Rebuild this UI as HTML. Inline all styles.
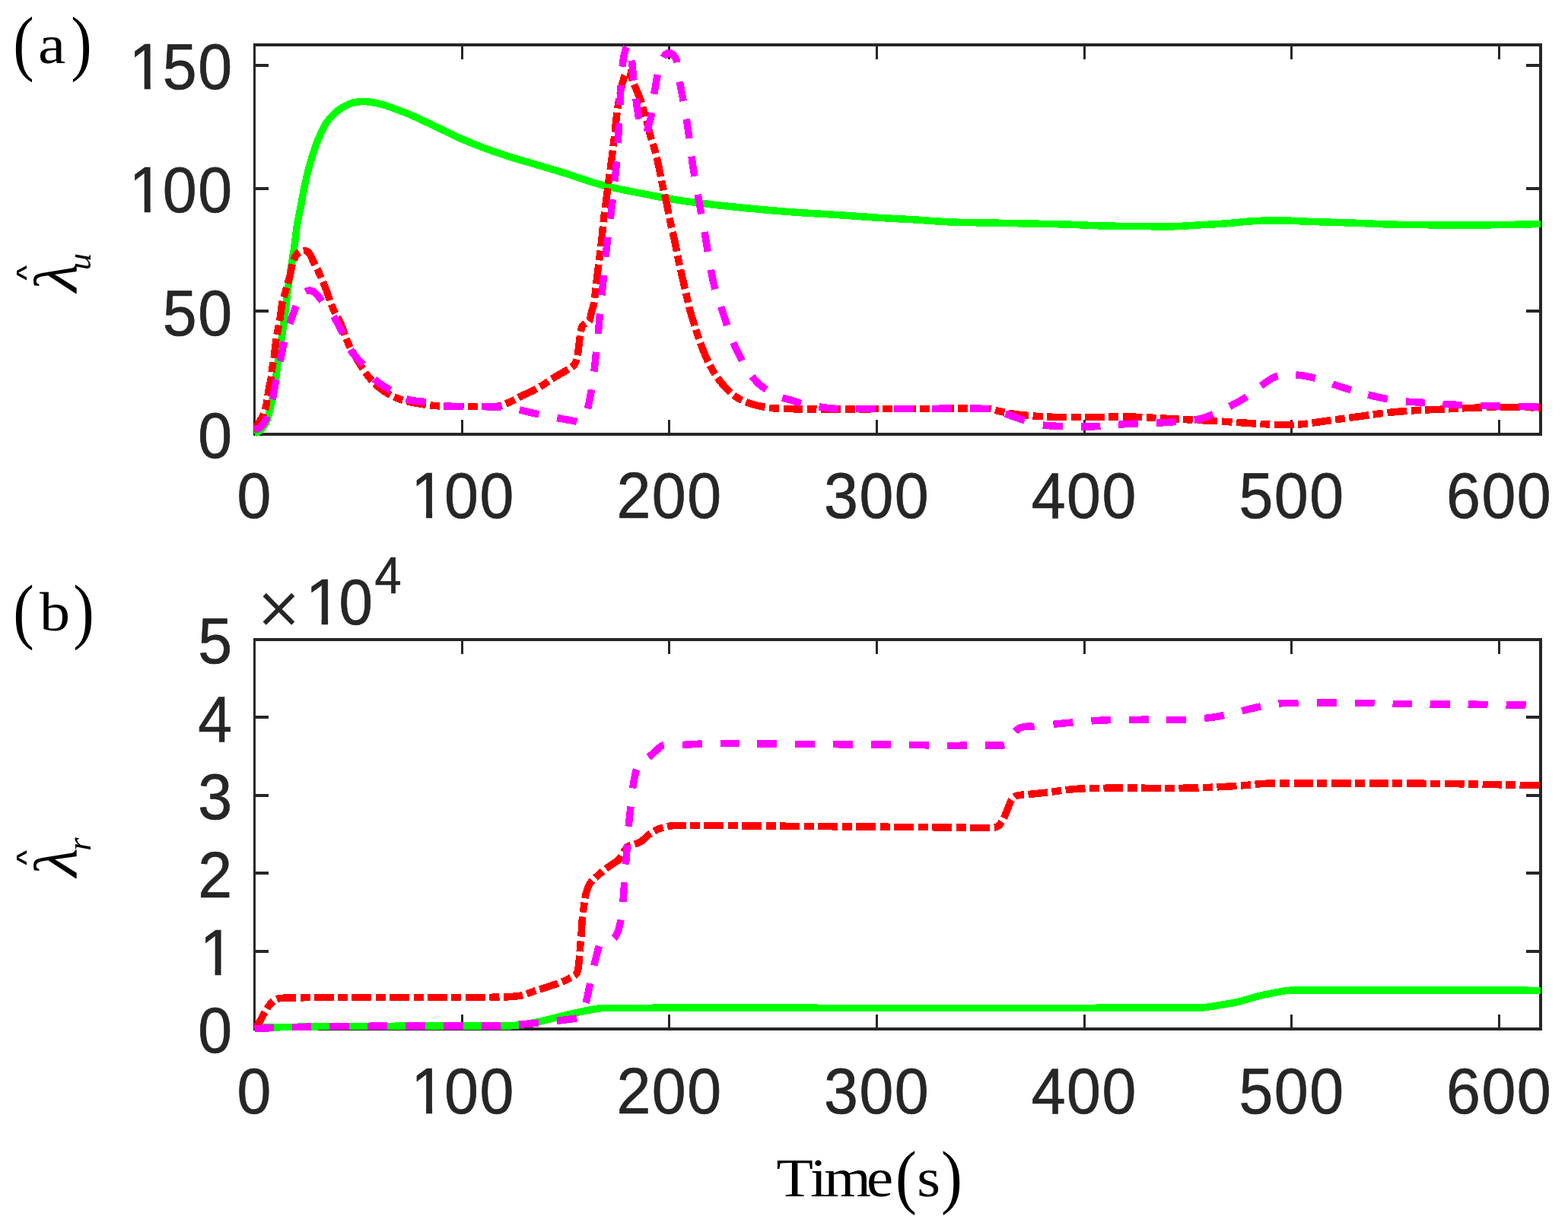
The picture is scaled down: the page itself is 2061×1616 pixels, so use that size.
<!DOCTYPE html>
<html><head><meta charset="utf-8"><title>Figure</title>
<style>
html,body{margin:0;padding:0;background:#fff;}
svg{display:block;}
.tk text{font-family:"Liberation Sans",Arial,Helvetica,sans-serif;font-size:84.5px;fill:#262626;stroke:#262626;stroke-width:0.7px;}
.ser{font-family:"Liberation Serif","Times New Roman",serif;fill:#000;}
</style></head><body>
<svg xmlns="http://www.w3.org/2000/svg" width="2061" height="1616" viewBox="0 0 2061 1616">
<rect width="2061" height="1616" fill="#fff"/>
<defs>
<clipPath id="ca"><rect x="333.50" y="59.00" width="1691.50" height="518.00"/></clipPath>
<clipPath id="cb"><rect x="334.00" y="841.00" width="1691.00" height="518.00"/></clipPath>
</defs>

<g fill="#262626" shape-rendering="crispEdges">
<rect x="333" y="57" width="3" height="516"/>
<rect x="2023" y="57" width="4" height="516"/>
<rect x="333" y="57" width="1694" height="4"/>
<rect x="333" y="569" width="1694" height="4"/>
<rect x="606" y="61" width="3" height="17"/>
<rect x="606" y="552" width="3" height="17"/>
<rect x="878" y="61" width="3" height="17"/>
<rect x="878" y="552" width="3" height="17"/>
<rect x="1151" y="61" width="3" height="17"/>
<rect x="1151" y="552" width="3" height="17"/>
<rect x="1424" y="61" width="3" height="17"/>
<rect x="1424" y="552" width="3" height="17"/>
<rect x="1696" y="61" width="3" height="17"/>
<rect x="1696" y="552" width="3" height="17"/>
<rect x="1969" y="61" width="3" height="17"/>
<rect x="1969" y="552" width="3" height="17"/>
<rect x="336" y="407" width="17" height="4"/>
<rect x="2006" y="407" width="17" height="4"/>
<rect x="336" y="246" width="17" height="4"/>
<rect x="2006" y="246" width="17" height="4"/>
<rect x="336" y="84" width="17" height="4"/>
<rect x="2006" y="84" width="17" height="4"/>
<rect x="333" y="839" width="3" height="516"/>
<rect x="2023" y="839" width="4" height="516"/>
<rect x="333" y="839" width="1694" height="4"/>
<rect x="333" y="1351" width="1694" height="4"/>
<rect x="606" y="843" width="3" height="17"/>
<rect x="606" y="1334" width="3" height="17"/>
<rect x="878" y="843" width="3" height="17"/>
<rect x="878" y="1334" width="3" height="17"/>
<rect x="1151" y="843" width="3" height="17"/>
<rect x="1151" y="1334" width="3" height="17"/>
<rect x="1424" y="843" width="3" height="17"/>
<rect x="1424" y="1334" width="3" height="17"/>
<rect x="1696" y="843" width="3" height="17"/>
<rect x="1696" y="1334" width="3" height="17"/>
<rect x="1969" y="843" width="3" height="17"/>
<rect x="1969" y="1334" width="3" height="17"/>
<rect x="336" y="1249" width="17" height="4"/>
<rect x="2006" y="1249" width="17" height="4"/>
<rect x="336" y="1146" width="17" height="4"/>
<rect x="2006" y="1146" width="17" height="4"/>
<rect x="336" y="1044" width="17" height="4"/>
<rect x="2006" y="1044" width="17" height="4"/>
<rect x="336" y="941" width="17" height="4"/>
<rect x="2006" y="941" width="17" height="4"/>
</g>
<g fill="none" stroke-width="9.5" stroke-linejoin="round" shape-rendering="crispEdges">
<g clip-path="url(#ca)">
<path d="M334.50 569.50C335.67 569.17 336.91 569.00 338.00 568.50C339.08 568.00 340.09 567.28 341.00 566.50C342.43 565.28 343.80 563.95 345.00 562.50C346.60 560.58 348.26 558.60 349.40 556.40C350.59 554.10 351.24 551.50 352.00 549.00C353.01 545.70 353.84 542.34 354.70 539.00C355.68 535.18 356.59 531.34 357.50 527.50C358.46 523.44 359.60 519.41 360.30 515.30C361.23 509.84 361.71 504.30 362.40 498.80C363.01 493.87 363.59 488.93 364.20 484.00C364.82 479.03 365.39 474.06 366.10 469.10C366.82 464.06 367.67 459.03 368.50 454.00C369.30 449.13 370.26 444.28 371.00 439.40C371.76 434.45 372.33 429.47 373.00 424.50C373.66 419.57 374.38 414.64 375.00 409.70C375.61 404.81 376.14 399.90 376.70 395.00C377.27 390.00 377.75 384.99 378.40 380.00C378.88 376.32 379.54 372.67 380.10 369.00C380.91 363.67 381.70 358.33 382.50 353.00C383.33 347.50 384.17 342.00 385.00 336.50C385.83 331.00 386.76 325.51 387.50 320.00C388.62 311.68 389.26 303.28 390.60 295.00C391.96 286.62 393.99 278.34 395.60 270.00C397.21 261.68 398.48 253.29 400.25 245.00C402.03 236.62 404.02 228.27 406.25 220.00C408.52 211.60 410.93 203.22 413.75 195.00C415.93 188.64 418.54 182.41 421.25 176.25C423.12 171.99 424.98 167.63 427.50 163.75C430.39 159.30 433.75 155.00 437.50 151.25C441.25 147.50 445.51 144.06 450.00 141.25C453.85 138.84 458.17 136.94 462.50 135.60C466.50 134.36 470.81 133.70 475.00 133.50C479.14 133.30 483.37 133.80 487.50 134.40C492.54 135.13 497.58 136.17 502.50 137.50C507.58 138.87 512.55 140.69 517.50 142.50C525.05 145.27 532.64 148.01 540.00 151.25C553.47 157.18 566.69 163.70 580.00 170.00C588.36 173.95 596.53 178.32 605.00 182.00C615.69 186.65 626.56 190.95 637.50 195.00C649.06 199.28 660.76 203.24 672.50 207.00C681.59 209.91 690.85 212.29 700.00 215.00C713.35 218.95 726.71 222.86 740.00 227.00C756.71 232.20 773.12 238.48 790.00 243.00C806.45 247.40 823.29 250.41 840.00 253.75C856.62 257.07 873.26 260.38 890.00 263.00C906.59 265.60 923.31 267.50 940.00 269.40C959.97 271.67 979.98 273.66 1000.00 275.50C1016.65 277.03 1033.32 278.33 1050.00 279.50C1066.66 280.67 1083.34 281.42 1100.00 282.50C1116.67 283.58 1133.33 284.96 1150.00 286.00C1166.66 287.04 1183.34 287.75 1200.00 288.75C1216.67 289.75 1233.32 291.29 1250.00 292.00C1266.65 292.71 1283.33 292.67 1300.00 293.00C1316.67 293.33 1333.33 293.67 1350.00 294.00C1366.67 294.33 1383.34 294.50 1400.00 295.00C1416.67 295.50 1433.33 296.58 1450.00 297.00C1466.66 297.42 1483.33 297.31 1500.00 297.50C1512.50 297.64 1525.01 298.25 1537.50 298.00C1550.01 297.75 1562.50 296.71 1575.00 296.00C1587.50 295.29 1600.01 294.67 1612.50 293.75C1625.01 292.83 1637.48 291.13 1650.00 290.50C1662.48 289.88 1675.00 289.83 1687.50 290.00C1700.00 290.17 1712.50 291.07 1725.00 291.50C1741.66 292.07 1758.34 292.42 1775.00 293.00C1791.67 293.58 1808.33 294.54 1825.00 295.00C1841.66 295.46 1858.33 295.59 1875.00 295.75C1893.33 295.92 1911.67 296.04 1930.00 296.00C1946.67 295.96 1963.33 295.76 1980.00 295.50C1995.00 295.26 2010.00 294.83 2025.00 294.50" stroke="#00ff00" id="ga"/>
<path d="M334.50 567.00C335.17 565.67 335.87 564.35 336.50 563.00C337.11 561.69 337.51 560.27 338.20 559.00C339.51 556.60 341.10 554.36 342.50 552.00C343.87 549.69 345.48 547.47 346.50 545.00C347.82 541.80 348.75 538.39 349.50 535.00C350.52 530.39 351.02 525.66 351.80 521.00C352.52 516.66 353.18 512.32 354.00 508.00C354.58 504.92 355.51 501.90 356.00 498.80C356.78 493.90 357.09 488.92 357.80 484.00C358.43 479.65 359.36 475.35 360.00 471.00C360.63 466.68 361.08 462.33 361.60 458.00C362.08 454.00 362.40 449.98 363.00 446.00C363.60 441.98 364.45 438.00 365.20 434.00C365.95 430.00 366.81 426.01 367.50 422.00C368.21 417.85 368.78 413.67 369.40 409.50C370.02 405.34 370.31 401.10 371.20 397.00C372.01 393.27 373.44 389.68 374.50 386.00C375.64 382.01 376.65 377.99 377.80 374.00C378.90 370.15 380.29 366.38 381.25 362.50C382.19 358.71 382.57 354.79 383.50 351.00C384.32 347.62 385.18 344.20 386.50 341.00C387.52 338.53 388.84 336.05 390.50 334.00C391.67 332.55 393.33 331.29 395.00 330.50C396.50 329.79 398.36 329.41 400.00 329.50C401.53 329.58 403.29 330.09 404.50 331.00C405.96 332.09 407.04 333.87 408.00 335.50C409.29 337.70 410.12 340.19 411.25 342.50C413.92 347.94 416.91 353.23 419.40 358.75C422.74 366.15 425.79 373.69 428.75 381.25C431.82 389.10 434.16 397.27 437.50 405.00C440.82 412.68 445.41 419.82 448.75 427.50C452.08 435.15 454.02 443.42 457.50 451.00C461.10 458.84 465.55 466.34 470.00 473.75C474.05 480.50 478.08 487.39 483.00 493.50C488.08 499.81 493.61 506.11 500.00 511.00C506.78 516.19 514.60 520.49 522.50 523.75C529.93 526.82 538.07 528.41 546.00 530.00C554.23 531.66 562.63 532.82 571.00 533.50C580.63 534.28 590.33 534.22 600.00 534.40C610.00 534.59 620.00 534.67 630.00 534.60C638.33 534.54 646.86 535.23 655.00 534.00C660.32 533.20 665.42 530.69 670.40 528.50C676.25 525.92 681.74 522.52 687.50 519.70C691.61 517.69 695.93 516.08 700.00 514.00C704.66 511.62 709.26 509.07 713.70 506.30C717.49 503.93 720.90 500.96 724.70 498.60C731.60 494.30 738.83 490.51 745.80 486.30C748.27 484.81 750.85 483.37 753.00 481.50C754.42 480.27 755.74 478.71 756.50 477.00C757.74 474.21 758.39 471.05 759.00 468.00C759.79 464.05 760.17 460.01 760.70 456.00C761.27 451.67 761.68 447.32 762.30 443.00C762.78 439.65 763.19 436.27 764.00 433.00C764.43 431.27 764.96 429.38 766.00 428.00C766.96 426.72 768.63 425.95 770.00 425.00C771.53 423.95 773.92 423.56 774.70 422.00C776.42 418.56 776.45 413.97 777.50 410.00C778.39 406.64 779.94 403.43 780.50 400.00C782.24 389.26 783.08 378.33 784.40 367.50C785.41 359.16 786.47 350.83 787.50 342.50C788.53 334.17 789.67 325.84 790.60 317.50C791.53 309.18 792.16 300.82 793.10 292.50C794.04 284.15 795.20 275.83 796.25 267.50C797.30 259.17 798.29 250.83 799.40 242.50C800.79 232.08 802.40 221.68 803.75 211.25C805.10 200.85 806.29 190.42 807.50 180.00C808.94 167.67 810.03 155.30 811.70 143.00C812.70 135.63 814.02 128.29 815.50 121.00C816.62 115.46 817.81 109.88 819.50 104.50C820.48 101.38 821.64 97.24 823.50 95.50C824.31 94.74 826.62 96.00 827.50 97.00C829.12 98.83 829.97 101.61 831.00 104.00C831.97 106.27 832.58 108.70 833.50 111.00C834.91 114.53 836.57 117.97 838.00 121.50C839.54 125.30 841.09 129.11 842.40 133.00C843.79 137.15 844.88 141.40 846.10 145.60C847.25 149.56 848.40 153.52 849.50 157.50C850.37 160.66 851.19 163.83 852.00 167.00C853.02 170.99 853.87 175.04 855.00 179.00C856.53 184.37 858.52 189.62 860.00 195.00C862.05 202.45 863.92 209.96 865.60 217.50C867.45 225.79 868.83 234.19 870.60 242.50C872.38 250.86 874.47 259.14 876.25 267.50C878.02 275.81 879.48 284.19 881.25 292.50C883.03 300.86 885.12 309.14 886.90 317.50C888.67 325.81 890.14 334.19 891.90 342.50C893.67 350.85 895.61 359.17 897.50 367.50C898.98 374.01 900.47 380.51 902.00 387.00C903.81 394.67 905.46 402.39 907.50 410.00C909.12 416.06 911.13 422.01 913.00 428.00C914.46 432.68 915.91 437.37 917.50 442.00C919.57 448.03 921.68 454.06 924.00 460.00C925.85 464.73 927.79 469.43 930.00 474.00C932.46 479.10 935.04 484.18 938.00 489.00C940.87 493.68 944.09 498.19 947.50 502.50C950.42 506.19 953.63 509.71 957.00 513.00C960.29 516.21 963.70 519.44 967.50 522.00C971.37 524.61 975.69 526.69 980.00 528.50C984.02 530.19 988.26 531.44 992.50 532.50C998.26 533.94 1004.12 535.13 1010.00 536.00C1014.96 536.73 1019.99 537.11 1025.00 537.30C1037.49 537.78 1050.00 537.88 1062.50 538.00C1075.00 538.12 1087.50 538.05 1100.00 538.00C1133.33 537.88 1166.67 537.58 1200.00 537.50C1233.33 537.42 1266.77 536.61 1300.00 537.50C1304.27 537.61 1308.30 539.66 1312.50 540.50C1320.80 542.16 1329.10 543.99 1337.50 545.00C1349.94 546.49 1362.48 547.46 1375.00 548.00C1391.64 548.71 1408.33 548.75 1425.00 548.75C1441.67 548.75 1458.33 548.06 1475.00 548.00C1483.33 547.97 1491.67 548.14 1500.00 548.50C1516.67 549.22 1533.33 550.37 1550.00 551.25C1566.66 552.12 1583.34 552.79 1600.00 553.75C1616.67 554.71 1633.32 556.08 1650.00 557.00C1662.49 557.69 1675.00 558.48 1687.50 558.60C1695.83 558.68 1704.21 558.41 1712.50 557.60C1725.04 556.38 1737.50 554.18 1750.00 552.50C1762.50 550.82 1775.00 549.17 1787.50 547.50C1800.00 545.83 1812.46 543.84 1825.00 542.50C1837.46 541.17 1849.99 540.25 1862.50 539.50C1874.99 538.75 1887.50 538.55 1900.00 538.00C1909.34 537.59 1918.66 536.93 1928.00 536.60C1944.33 536.03 1960.66 535.40 1977.00 535.30C1993.00 535.20 2009.00 535.77 2025.00 536.00" stroke="#ff0000" id="ra" stroke-dasharray="26.13 5.53 13.06 5.53 26.13 5.53 13.06 5.53 25.74 5.45 12.87 5.44 26.26 5.56 13.13 5.56 26.19 5.54 13.10 5.54 26.19 5.54 13.10 5.54 26.26 5.56 13.13 5.56 25.22 5.33 12.61 5.33 27.56 5.83 13.78 5.83 24.96 5.28 12.48 5.28 25.61 5.42 12.80 5.42 26.13 5.53 13.06 5.53 26.13 5.53 13.06 5.53 26.13 5.53 13.06 5.53 25.09 5.31 12.54 5.31 26.00 5.50 13.00 5.50 26.13 5.53 13.06 5.53 25.74 5.44 12.87 5.45 26.65 5.64 13.32 5.64 26.13 5.53 13.06 5.53 26.00 5.50 13.00 5.50 26.00 5.50 13.00 5.50 26.00 5.50 13.00 5.50 26.13 5.53 13.07 5.53 26.13 5.53 13.07 5.53 25.87 5.47 12.93 5.47 26.26 5.56 13.13 5.56 26.26 5.56 13.13 5.56 26.13 5.53 13.07 5.53 25.87 5.47 12.93 5.47 26.65 5.64 13.33 5.64 25.87 5.47 12.93 5.47 26.13 5.53 13.07 5.53 25.61 5.42 12.81 5.42 26.13 5.53 13.07 5.53 25.35 5.36 12.67 5.36 26.00 5.50 13.00 5.50 25.61 5.42 12.81 5.42 25.61 5.42 12.81 5.42 26.39 5.58 13.19 5.58 25.87 5.47 12.93 5.47 25.87 5.47 12.93 5.47 25.61 5.42 12.80 5.42 24.96 5.28 12.48 5.28 27.30 5.77 13.65 5.78 25.74 5.45 12.87 5.45 25.87 5.47 12.93 5.47 25.61 5.42 12.80 5.42 26.39 5.58 13.20 5.58 26.00 5.50 13.00 5.50 25.48 5.39 12.74 5.39 26.00 5.50 13.00 5.50 25.87 5.47 12.93 5.47 5.11 99.00"/>
<path d="M334.50 565.00C335.93 564.67 337.51 564.64 338.80 564.00C340.51 563.14 342.13 561.87 343.50 560.50C345.06 558.94 346.39 557.07 347.60 555.20C348.66 553.57 349.61 551.82 350.30 550.00C351.41 547.08 352.08 544.00 353.00 541.00C353.82 538.33 354.65 535.66 355.50 533.00C356.38 530.23 357.50 527.52 358.20 524.70C359.24 520.52 359.91 516.24 360.70 512.00C361.48 507.81 362.10 503.59 362.90 499.40C363.70 495.25 364.60 491.13 365.50 487.00C366.37 482.99 367.33 479.01 368.20 475.00C369.10 470.84 369.92 466.66 370.80 462.50C371.65 458.50 372.40 454.47 373.40 450.50C374.46 446.30 375.75 442.15 377.00 438.00C378.21 433.98 379.47 429.98 380.80 426.00C382.14 421.98 383.58 417.99 385.00 414.00C386.31 410.33 387.55 406.62 389.00 403.00C390.22 399.95 391.50 396.91 393.00 394.00C394.16 391.74 395.42 389.46 397.00 387.50C398.25 385.96 399.79 384.44 401.50 383.50C403.12 382.61 405.18 381.92 407.00 382.00C409.02 382.09 411.31 382.85 413.00 384.00C415.22 385.51 416.95 387.90 418.75 390.00C420.95 392.57 422.96 395.30 425.00 398.00C427.37 401.14 429.70 404.31 432.00 407.50C435.11 411.81 438.52 415.95 441.25 420.50C444.52 425.95 447.18 431.79 450.00 437.50C453.85 445.29 456.63 453.73 461.25 461.00C465.38 467.48 471.29 472.80 476.25 478.75C482.12 485.80 487.11 493.81 493.75 500.00C499.19 505.06 506.08 508.61 512.50 512.50C519.83 516.94 527.01 522.27 535.00 525.00C542.85 527.68 551.70 527.30 560.00 528.75C567.95 530.14 575.77 532.41 583.75 533.50C589.77 534.32 595.91 534.37 602.00 534.50C616.53 534.81 631.07 534.61 645.60 534.80C649.24 534.85 652.87 534.95 656.50 535.20C661.01 535.51 665.53 535.86 670.00 536.50C674.56 537.16 679.09 538.12 683.60 539.10C689.09 540.29 694.52 541.74 700.00 543.00C702.62 543.60 705.26 544.17 707.90 544.70C715.93 546.31 723.96 547.87 732.00 549.40C740.26 550.97 748.55 552.41 756.80 554.00C758.21 554.27 759.67 555.17 761.00 555.00C762.24 554.84 763.57 553.93 764.50 553.00C766.07 551.43 767.49 549.51 768.50 547.50C770.19 544.11 771.66 540.49 772.60 536.80C774.59 529.02 775.94 521.04 777.30 513.10C778.74 504.74 779.94 496.32 781.00 487.90C782.04 479.65 782.72 471.36 783.60 463.10C784.48 454.86 785.50 446.64 786.30 438.40C787.10 430.18 787.61 421.93 788.40 413.70C789.68 400.38 791.15 387.07 792.50 373.75C794.19 357.09 795.60 340.39 797.50 323.75C799.35 307.47 801.79 291.26 803.75 275.00C805.76 258.35 807.82 241.69 809.40 225.00C810.74 210.86 811.64 196.68 812.50 182.50C813.67 163.34 814.45 144.16 815.50 125.00C815.95 116.66 816.35 108.32 817.00 100.00C817.52 93.32 818.10 86.63 819.00 80.00C819.60 75.63 820.41 71.26 821.50 67.00C822.07 64.76 822.80 62.30 824.00 60.50C824.46 59.80 826.04 58.99 826.50 59.50C827.70 60.82 828.54 63.74 829.00 66.00C829.87 70.24 830.07 74.66 830.50 79.00C831.31 87.19 831.85 95.41 832.70 103.60C833.58 112.08 834.58 120.55 835.70 129.00C836.81 137.35 837.99 145.70 839.40 154.00C840.09 158.03 840.92 162.06 842.00 166.00C842.79 168.89 843.61 171.98 845.00 174.50C845.45 175.31 846.71 176.05 847.50 176.00C848.27 175.95 849.34 175.05 849.70 174.20C851.17 170.72 851.93 166.74 853.00 163.00C854.23 158.68 855.83 154.42 856.60 150.00C858.03 141.75 858.45 133.31 859.60 125.00C860.25 120.31 861.18 115.66 862.00 111.00C862.65 107.33 863.20 103.64 864.00 100.00C865.03 95.30 866.02 90.56 867.50 86.00C868.56 82.73 870.02 79.55 871.60 76.50C872.52 74.72 873.58 72.84 875.00 71.50C876.05 70.51 877.63 69.58 879.00 69.50C880.46 69.41 882.35 70.01 883.50 71.00C885.62 72.84 887.75 75.35 888.80 78.00C890.25 81.68 890.37 85.98 891.00 90.00C891.87 95.52 892.38 101.09 893.30 106.60C894.64 114.63 896.34 122.59 897.80 130.60C899.34 139.06 900.97 147.51 902.30 156.00C903.87 165.97 905.15 175.99 906.50 186.00C907.92 196.49 908.95 207.04 910.60 217.50C913.25 234.21 916.48 250.83 919.40 267.50C922.32 284.16 925.18 300.84 928.10 317.50C931.02 334.17 933.50 350.94 936.90 367.50C938.46 375.10 940.71 382.58 943.00 390.00C945.49 398.08 948.58 405.98 951.25 414.00C953.91 421.98 956.07 430.13 959.00 438.00C961.90 445.80 965.17 453.49 968.75 461.00C972.17 468.16 975.77 475.31 980.00 482.00C984.52 489.14 989.27 496.38 995.00 502.50C999.27 507.05 1004.71 510.62 1010.00 514.00C1014.88 517.12 1020.16 519.77 1025.50 522.00C1029.33 523.60 1033.52 524.28 1037.50 525.50C1042.25 526.95 1046.88 528.83 1051.70 530.00C1059.38 531.86 1067.18 533.41 1075.00 534.60C1083.61 535.91 1092.30 537.16 1101.00 537.50C1117.30 538.13 1133.67 537.50 1150.00 537.50C1166.67 537.50 1183.33 537.50 1200.00 537.50C1233.33 537.50 1266.81 536.47 1300.00 537.50C1304.31 537.63 1308.38 539.68 1312.50 541.00C1320.05 543.43 1327.47 546.26 1335.00 548.75C1344.13 551.76 1353.18 555.29 1362.50 557.50C1369.01 559.04 1375.80 559.66 1382.50 560.00C1399.13 560.83 1415.85 561.42 1432.50 561.00C1449.19 560.58 1465.82 558.40 1482.50 557.50C1496.65 556.73 1510.85 556.73 1525.00 556.00C1533.35 555.57 1541.68 554.79 1550.00 554.00C1558.35 553.21 1566.80 552.79 1575.00 551.25C1580.13 550.29 1585.15 548.47 1590.00 546.50C1598.48 543.05 1606.82 539.13 1615.00 535.00C1622.65 531.13 1630.31 527.15 1637.50 522.50C1644.48 517.98 1650.70 512.31 1657.50 507.50C1663.20 503.47 1668.65 498.54 1675.00 496.00C1681.15 493.54 1688.30 492.47 1695.00 492.50C1704.97 492.55 1715.25 493.90 1725.00 496.25C1737.75 499.32 1749.88 504.97 1762.50 508.75C1779.05 513.72 1795.65 518.78 1812.50 522.50C1824.69 525.19 1837.20 526.53 1849.60 528.00C1856.03 528.76 1862.54 528.76 1869.00 529.20C1882.14 530.09 1895.25 531.35 1908.40 532.00C1924.75 532.81 1941.13 533.17 1957.50 533.60C1973.83 534.03 1990.17 534.26 2006.50 534.60C2012.67 534.73 2018.83 534.87 2025.00 535.00" stroke="#ff00ff" id="ma" stroke-dasharray="25.35 23.40 26.65 24.60 26.39 24.36 25.09 23.16 27.43 25.32 25.48 23.52 25.87 23.88 25.74 23.76 26.26 24.24 26.00 24.00 25.87 23.88 26.26 24.24 26.52 24.48 25.74 23.76 26.00 24.00 26.46 24.42 26.46 24.42 26.13 24.12 25.87 23.88 26.17 24.16 26.17 24.16 26.17 24.16 26.78 24.72 26.26 24.24 27.17 25.08 26.52 24.48 26.00 24.00 27.56 25.44 25.87 23.88 25.87 23.88 26.39 24.36 26.00 24.00 26.26 24.24 26.13 24.12 26.00 24.00 26.39 24.36 25.74 23.76 25.74 23.76 25.61 23.64 25.74 23.76 26.00 24.00 26.26 24.24 24.44 22.56 26.91 24.84 26.00 24.00 25.61 23.64 26.00 24.00 26.00 24.00 26.00 24.00 25.74 23.76 25.74 23.76 26.00 24.00 25.35 23.40 26.26 24.24 25.22 23.28 26.00 24.00 26.00 24.00 26.00 103.88"/>
</g><g clip-path="url(#cb)">
<path d="M334.50 1351.50C349.67 1351.17 364.83 1350.80 380.00 1350.50C396.67 1350.17 413.33 1349.73 430.00 1349.60C470.00 1349.29 510.00 1349.30 550.00 1349.20C589.33 1349.10 628.69 1349.47 668.00 1349.00C672.85 1348.94 677.69 1348.25 682.50 1347.60C690.59 1346.51 698.70 1345.40 706.70 1343.80C714.87 1342.17 722.90 1339.85 731.00 1337.90C739.10 1335.95 747.18 1333.95 755.30 1332.10C760.18 1330.99 765.09 1329.97 770.00 1329.00C773.16 1328.37 776.32 1327.81 779.50 1327.30C783.32 1326.68 787.14 1325.85 791.00 1325.60C797.31 1325.19 803.67 1325.31 810.00 1325.30C873.33 1325.18 936.67 1325.21 1000.00 1325.20C1192.00 1325.17 1384.04 1325.94 1576.00 1325.20C1582.48 1325.17 1588.90 1323.88 1595.30 1322.90C1605.66 1321.31 1616.08 1319.79 1626.30 1317.50C1636.78 1315.16 1646.96 1311.53 1657.40 1309.00C1665.10 1307.13 1672.90 1305.67 1680.70 1304.30C1685.83 1303.40 1691.00 1302.36 1696.20 1302.20C1717.43 1301.56 1738.73 1301.92 1760.00 1301.90C1806.67 1301.85 1853.33 1301.93 1900.00 1302.00C1941.67 1302.06 1983.33 1302.20 2025.00 1302.30" stroke="#00ff00" id="gb"/>
<path d="M334.50 1352.00C335.33 1351.00 336.16 1349.99 337.00 1349.00C337.99 1347.83 339.15 1346.77 340.00 1345.50C341.48 1343.27 342.69 1340.85 344.00 1338.50C345.19 1336.35 346.30 1334.15 347.50 1332.00C348.63 1329.98 349.74 1327.94 351.00 1326.00C352.01 1324.44 353.12 1322.93 354.30 1321.50C355.45 1320.10 356.66 1318.72 358.00 1317.50C359.23 1316.38 360.56 1315.31 362.00 1314.50C363.23 1313.81 364.61 1313.27 366.00 1313.00C368.94 1312.43 371.99 1312.16 375.00 1312.00C379.66 1311.76 384.33 1311.82 389.00 1311.80C426.00 1311.65 463.00 1311.59 500.00 1311.50C533.33 1311.42 566.67 1311.36 600.00 1311.30C618.33 1311.26 636.67 1311.40 655.00 1311.20C660.67 1311.14 666.35 1310.91 672.00 1310.50C676.35 1310.18 680.72 1309.76 685.00 1309.00C687.45 1308.56 689.83 1307.70 692.20 1306.90C696.76 1305.36 701.23 1303.52 705.80 1302.00C710.93 1300.29 716.17 1298.92 721.30 1297.20C727.57 1295.09 733.89 1293.03 740.00 1290.50C744.13 1288.79 748.05 1286.58 752.00 1284.50C753.55 1283.68 755.25 1282.96 756.50 1281.80C757.58 1280.79 758.52 1279.41 759.00 1278.00C759.86 1275.48 760.15 1272.69 760.50 1270.00C761.05 1265.69 761.32 1261.34 761.70 1257.00C762.09 1252.50 762.43 1248.00 762.80 1243.50C763.30 1237.33 763.86 1231.17 764.30 1225.00C764.69 1219.54 764.80 1214.05 765.30 1208.60C765.76 1203.62 766.49 1198.66 767.20 1193.70C768.05 1187.79 768.65 1181.80 770.00 1176.00C770.95 1171.90 772.30 1167.78 774.10 1164.00C775.24 1161.61 776.99 1159.45 778.80 1157.50C781.32 1154.78 784.30 1152.46 787.10 1150.00C789.57 1147.83 792.00 1145.61 794.60 1143.60C797.60 1141.28 800.79 1139.19 803.90 1137.00C806.96 1134.85 810.59 1133.27 813.10 1130.60C815.83 1127.70 817.33 1123.66 819.60 1120.30C821.06 1118.13 822.49 1115.83 824.30 1114.00C825.29 1113.00 826.67 1112.30 828.00 1111.80C829.77 1111.13 831.81 1111.15 833.60 1110.50C836.77 1109.35 840.13 1108.27 842.90 1106.40C846.30 1104.11 848.78 1100.46 852.10 1098.00C855.88 1095.20 859.89 1092.42 864.20 1090.60C869.19 1088.49 874.63 1087.03 880.00 1086.20C886.10 1085.26 892.39 1085.31 898.60 1085.30C932.39 1085.24 966.20 1085.75 1000.00 1086.00C1033.33 1086.25 1066.67 1086.55 1100.00 1086.80C1133.33 1087.05 1166.67 1087.22 1200.00 1087.50C1226.67 1087.72 1253.33 1088.09 1280.00 1088.30C1286.67 1088.35 1293.33 1088.37 1300.00 1088.30C1302.67 1088.27 1305.42 1088.47 1308.00 1088.00C1309.59 1087.71 1311.26 1087.00 1312.50 1086.00C1313.93 1084.84 1314.92 1083.06 1316.00 1081.50C1317.22 1079.73 1318.46 1077.93 1319.40 1076.00C1321.13 1072.43 1322.48 1068.67 1324.00 1065.00C1325.65 1061.01 1326.90 1056.78 1328.90 1053.00C1329.90 1051.11 1331.36 1049.30 1333.00 1048.00C1334.39 1046.90 1336.25 1046.24 1338.00 1045.80C1340.25 1045.24 1342.66 1045.22 1345.00 1045.00C1347.00 1044.82 1349.00 1044.79 1351.00 1044.60C1359.40 1043.79 1367.81 1042.97 1376.20 1042.00C1388.31 1040.60 1400.36 1038.44 1412.50 1037.50C1424.96 1036.54 1437.50 1036.48 1450.00 1036.30C1466.66 1036.06 1483.33 1036.27 1500.00 1036.25C1520.00 1036.23 1540.01 1036.53 1560.00 1036.20C1575.84 1035.94 1591.68 1035.26 1607.50 1034.50C1617.51 1034.02 1627.51 1033.26 1637.50 1032.50C1645.84 1031.86 1654.15 1030.66 1662.50 1030.30C1674.98 1029.76 1687.50 1029.83 1700.00 1029.80C1733.33 1029.73 1766.67 1029.88 1800.00 1030.00C1833.33 1030.12 1866.67 1030.12 1900.00 1030.50C1933.34 1030.88 1966.67 1031.77 2000.00 1032.30C2008.33 1032.43 2016.67 1032.43 2025.00 1032.50" stroke="#ff0000" id="rb" stroke-dasharray="25.35 5.36 12.68 5.36 25.87 5.47 12.94 5.47 25.48 5.39 12.74 5.39 26.00 5.50 13.00 5.50 25.87 5.47 12.94 5.47 26.00 5.50 13.00 5.50 26.00 5.50 13.00 5.50 25.35 5.36 12.68 5.36 25.61 5.42 12.81 5.42 27.56 5.83 13.78 5.83 26.39 5.58 13.20 5.58 25.61 5.42 12.80 5.42 26.65 5.64 13.32 5.64 25.74 5.44 12.87 5.45 25.22 5.33 12.61 5.34 26.00 5.50 13.00 5.50 26.00 5.50 13.00 5.50 26.00 5.50 13.00 5.50 26.00 5.50 13.00 5.50 26.00 5.50 13.00 5.50 26.00 5.50 13.00 5.50 26.00 5.50 13.00 5.50 26.00 5.50 13.00 5.50 26.00 5.50 13.00 5.50 25.74 5.44 12.87 5.44 26.00 5.50 13.00 5.50 26.00 5.50 13.00 5.50 25.48 5.39 12.74 5.39 26.00 5.50 13.00 5.50 26.13 5.53 13.07 5.53 26.52 5.61 13.26 5.61 25.48 5.39 12.74 5.39 26.00 5.50 13.00 5.50 25.48 5.39 12.74 5.39 26.00 5.50 13.00 5.50 26.00 5.50 13.00 5.50 25.48 5.39 12.74 5.39 26.00 102.06"/>
<path d="M334.50 1352.80C343.00 1352.37 351.50 1351.82 360.00 1351.50C373.33 1350.99 386.66 1350.60 400.00 1350.30C416.66 1349.93 433.33 1349.68 450.00 1349.50C466.67 1349.32 483.33 1349.26 500.00 1349.20C533.33 1349.09 566.67 1349.07 600.00 1349.00C616.67 1348.97 633.34 1349.09 650.00 1348.90C656.67 1348.82 663.34 1348.60 670.00 1348.20C676.68 1347.80 683.33 1347.03 690.00 1346.50C696.66 1345.97 703.35 1345.67 710.00 1345.00C717.35 1344.27 724.67 1343.21 732.00 1342.30C739.77 1341.34 747.55 1340.45 755.30 1339.40C756.88 1339.19 758.66 1339.22 760.00 1338.50C761.39 1337.75 762.61 1336.36 763.50 1335.00C764.78 1333.03 765.61 1330.71 766.50 1328.50C767.81 1325.28 769.21 1322.06 770.10 1318.70C772.08 1311.19 773.45 1303.50 775.10 1295.90C776.99 1287.17 778.65 1278.39 780.70 1269.70C782.55 1261.86 784.51 1254.01 786.80 1246.30C787.45 1244.11 788.19 1241.78 789.50 1240.00C790.59 1238.52 792.31 1237.23 794.00 1236.50C795.81 1235.73 798.00 1235.82 800.00 1235.50C802.00 1235.18 804.45 1235.66 806.00 1234.60C808.12 1233.16 809.92 1230.49 811.00 1228.00C812.98 1223.43 814.22 1218.36 815.20 1213.40C816.72 1205.69 817.66 1197.83 818.50 1190.00C819.46 1181.03 819.94 1172.00 820.60 1163.00C821.24 1154.34 821.76 1145.66 822.40 1137.00C822.99 1129.00 823.71 1121.00 824.30 1113.00C824.94 1104.34 825.32 1095.65 826.10 1087.00C826.85 1078.65 828.00 1070.34 828.90 1062.00C829.77 1053.90 830.20 1045.75 831.40 1037.70C832.66 1029.25 834.19 1020.74 836.30 1012.50C836.89 1010.17 838.17 1007.99 839.50 1006.00C840.74 1004.15 842.31 1002.44 844.00 1001.00C845.31 999.88 847.01 999.22 848.50 998.30C849.91 997.42 851.40 996.64 852.70 995.60C855.57 993.30 858.24 990.74 861.00 988.30C863.84 985.80 866.35 982.69 869.50 980.80C871.35 979.69 873.79 979.42 876.00 979.30C882.62 978.95 889.34 979.58 896.00 979.40C904.34 979.18 912.66 978.42 921.00 978.10C929.33 977.78 937.67 977.51 946.00 977.50C964.00 977.48 982.00 977.85 1000.00 978.00C1033.33 978.27 1066.67 978.50 1100.00 978.75C1133.33 979.00 1166.67 979.16 1200.00 979.50C1216.67 979.67 1233.33 980.21 1250.00 980.30C1264.67 980.38 1279.33 980.07 1294.00 980.00C1301.00 979.97 1308.01 980.13 1315.00 980.00C1317.01 979.96 1319.18 980.14 1321.00 979.50C1322.51 978.97 1323.87 977.70 1325.00 976.50C1326.54 974.87 1327.78 972.91 1329.00 971.00C1330.45 968.74 1331.47 966.19 1333.00 964.00C1334.14 962.36 1335.48 960.77 1337.00 959.50C1338.48 958.27 1340.19 957.10 1342.00 956.50C1344.52 955.67 1347.31 955.39 1350.00 955.20C1353.31 954.96 1356.68 955.49 1360.00 955.20C1371.68 954.17 1383.31 952.32 1395.00 951.25C1413.31 949.58 1431.64 947.87 1450.00 947.00C1466.64 946.21 1483.33 946.36 1500.00 946.25C1519.67 946.11 1539.36 946.92 1559.00 946.25C1571.03 945.84 1583.08 944.61 1595.00 943.00C1603.41 941.86 1611.71 939.87 1620.00 938.00C1627.96 936.20 1635.80 933.86 1643.75 932.00C1652.47 929.96 1661.17 927.66 1670.00 926.30C1677.42 925.16 1684.98 924.60 1692.50 924.50C1728.31 924.00 1764.17 924.24 1800.00 924.50C1814.00 924.60 1828.00 925.43 1842.00 925.60C1875.33 926.01 1908.67 925.96 1942.00 926.25C1958.67 926.39 1975.33 926.75 1992.00 926.90C2003.00 927.00 2014.00 926.97 2025.00 927.00" stroke="#ff00ff" id="mb" stroke-dasharray="25.74 23.76 25.48 23.52 26.00 24.00 26.00 24.00 26.00 24.00 26.00 24.00 25.48 23.52 26.13 24.12 26.52 24.48 26.13 24.12 26.26 24.24 25.74 23.76 25.74 23.76 26.00 24.00 26.26 24.24 25.22 23.28 26.00 24.00 26.00 24.00 25.35 23.40 26.00 24.00 26.00 24.00 26.00 24.00 26.00 24.00 25.74 23.76 26.00 24.00 25.22 23.28 27.04 24.96 26.13 24.12 26.00 24.00 25.35 23.40 26.00 24.00 26.13 24.12 25.61 23.64 26.00 24.00 26.00 24.00 26.00 24.00 25.48 23.52 26.00 24.00 26.00 24.00 26.00 120.11"/>
</g></g>
<g class="tk">
<text transform="scale(0.9550 1)" x="272.43" y="602.50">0</text>
<text transform="scale(0.9550 1)" x="223.84 272.43" y="440.83">50</text>
<text transform="scale(0.9550 1)" x="177.87 223.84 272.43" y="279.17">100</text>
<text transform="scale(0.9550 1)" x="177.87 223.84 272.43" y="117.50">150</text>
<text transform="scale(0.9550 1)" x="272.43" y="1384.50">0</text>
<text transform="scale(0.9550 1)" x="275.05" y="1282.10">1</text>
<text transform="scale(0.9550 1)" x="272.43" y="1179.70">2</text>
<text transform="scale(0.9550 1)" x="272.43" y="1077.30">3</text>
<text transform="scale(0.9550 1)" x="272.43" y="974.90">4</text>
<text transform="scale(0.9550 1)" x="272.43" y="872.50">5</text>
<text transform="scale(0.9550 1)" x="326.14" y="681.00">0</text>
<text transform="scale(0.9550 1)" x="565.68 611.65 660.24" y="681.00">100</text>
<text transform="scale(0.9550 1)" x="848.58 897.17 945.75" y="681.00">200</text>
<text transform="scale(0.9550 1)" x="1134.09 1182.68 1231.27" y="681.00">300</text>
<text transform="scale(0.9550 1)" x="1419.61 1468.20 1516.78" y="681.00">400</text>
<text transform="scale(0.9550 1)" x="1705.12 1753.71 1802.30" y="681.00">500</text>
<text transform="scale(0.9550 1)" x="1990.64 2039.23 2087.81" y="681.00">600</text>
<text transform="scale(0.9550 1)" x="326.14" y="1463.80">0</text>
<text transform="scale(0.9550 1)" x="565.68 611.65 660.24" y="1463.80">100</text>
<text transform="scale(0.9550 1)" x="848.58 897.17 945.75" y="1463.80">200</text>
<text transform="scale(0.9550 1)" x="1134.09 1182.68 1231.27" y="1463.80">300</text>
<text transform="scale(0.9550 1)" x="1419.61 1468.20 1516.78" y="1463.80">400</text>
<text transform="scale(0.9550 1)" x="1705.12 1753.71 1802.30" y="1463.80">500</text>
<text transform="scale(0.9550 1)" x="1990.64 2039.23 2087.81" y="1463.80">600</text>
<text x="338.5" y="834.3" style="font-family:'Liberation Serif',serif;font-size:99px;stroke-width:1px">&#215;</text>
<text x="401.45" y="821" style="font-size:86px">1</text>
<text transform="translate(445.6 821) scale(0.93 1)" style="font-size:86px">0</text>
<text transform="translate(492.55 779.8) scale(0.93 1)" style="font-size:68px">4</text>
</g>
<g fill="#fff"><rect x="173.81" y="271.55" width="15.90" height="9.51"/><rect x="197.74" y="271.55" width="15.47" height="9.51"/><rect x="173.81" y="109.89" width="15.90" height="9.51"/><rect x="197.74" y="109.89" width="15.47" height="9.51"/><rect x="266.61" y="1274.49" width="15.90" height="9.51"/><rect x="290.54" y="1274.49" width="15.47" height="9.51"/><rect x="544.17" y="673.39" width="15.90" height="9.51"/><rect x="568.10" y="673.39" width="15.47" height="9.51"/><rect x="544.17" y="1456.19" width="15.90" height="9.51"/><rect x="568.10" y="1456.19" width="15.47" height="9.51"/><rect x="405.65" y="813.28" width="16.98" height="9.62"/><rect x="431.13" y="813.28" width="16.51" height="9.62"/></g>
<g class="ser">
<text transform="translate(17.18 88.4) scale(0.86 1)" style="font-size:95.8px">(</text>
<text transform="translate(50.0 83.3) scale(1.14 1)" style="font-size:71.4px">a</text>
<text transform="translate(93.14 88.4) scale(0.86 1)" style="font-size:95.8px">)</text>
<text transform="translate(17.16 834.6) scale(0.86 1)" style="font-size:96.2px">(</text>
<text transform="translate(52 829.1) scale(1.11 1)" style="font-size:72.3px">b</text>
<text transform="translate(96.13 834.6) scale(0.86 1)" style="font-size:96.2px">)</text>
<text transform="translate(1020.57 1572.70) scale(1.100 1)" style="font-size:72px">T</text>
<text transform="translate(1064.90 1572.70) scale(1.100 1)" style="font-size:72px">i</text>
<text transform="translate(1083.20 1572.70) scale(1.100 1)" style="font-size:72px">m</text>
<text transform="translate(1138.90 1572.70) scale(1.100 1)" style="font-size:72px">e</text>
<text transform="translate(1177.00 1577.80) scale(0.900 1)" style="font-size:93px">(</text>
<text transform="translate(1205.35 1573.20) scale(1.100 1)" style="font-size:72px">s</text>
<text transform="translate(1237.10 1577.80) scale(0.900 1)" style="font-size:93px">)</text>
<g transform="translate(99.9 383.95) rotate(-90)">
<text transform="scale(1.1 1)" x="0" y="0" style="font-size:79.7px;font-style:italic">&#955;</text>
<text transform="translate(14.7 -58.4) scale(1 0.833)" style="font-family:'Liberation Sans',sans-serif;font-size:36px;font-weight:bold">^</text>
<text x="28.80" y="18.8" style="font-size:44.8px;font-style:italic">u</text>
</g>
<g transform="translate(99.9 1153.05) rotate(-90)">
<text transform="scale(1.1 1)" x="0" y="0" style="font-size:79.7px;font-style:italic">&#955;</text>
<text transform="translate(14.7 -58.4) scale(1 0.833)" style="font-family:'Liberation Sans',sans-serif;font-size:36px;font-weight:bold">^</text>
<text x="34.25" y="18.8" style="font-size:44.8px;font-style:italic">r</text>
</g>
</g>
</svg>
</body></html>
